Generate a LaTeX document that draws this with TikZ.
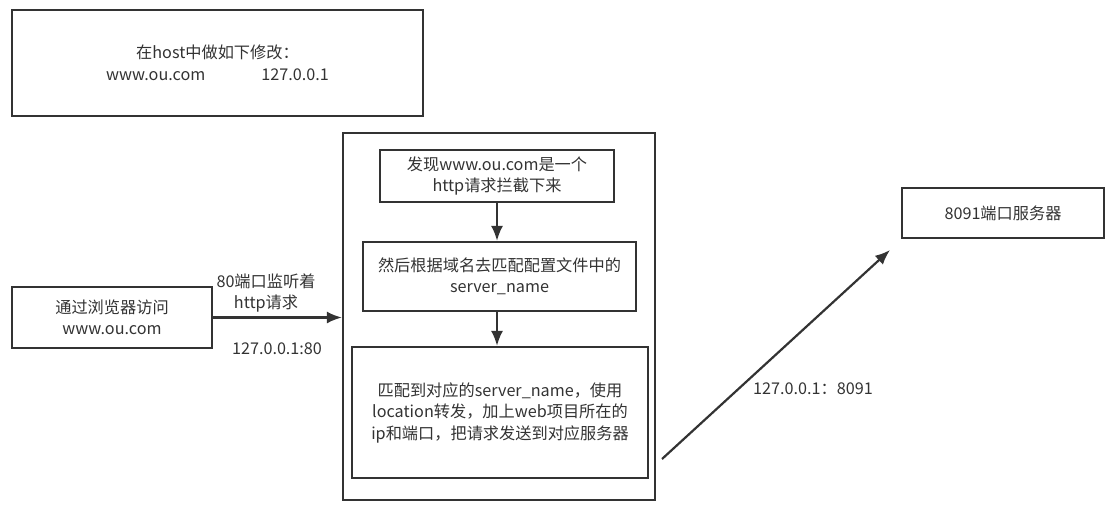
\documentclass[tikz,border=0pt]{standalone}
\usepackage{fontspec}
\setmainfont{Noto Sans CJK SC}
\usepackage{tikz}
\usetikzlibrary{arrows.meta,positioning,calc}
\definecolor{LineGray}{HTML}{333333}
\definecolor{TextGray}{HTML}{333333}
\tikzset{
  box/.style={draw=LineGray, line width=2.2pt, align=center, fill=white, text=TextGray, inner sep=0pt, font=\fontsize{16.2}{21.5}\selectfont},
  lbl/.style={align=center, text=TextGray, inner sep=0pt, font=\fontsize{16.2}{21.5}\selectfont},
  arr/.style={-{Latex[length=15pt,width=12pt]}, line width=2.2pt, draw=LineGray}
}
\begin{document}
\begin{tikzpicture}[x=1pt,y=-1pt]
\useasboundingbox (0,0) rectangle (1115,515);
% hosts file
\node[box, minimum width=411, minimum height=106] (hosts) at (217.5,63) {在host中做如下修改：\\www.ou.com\hspace{56pt}127.0.0.1};
% nginx container
\node[box, minimum width=312, minimum height=367] (nginx) at (499,316.5) {};
\node[box, minimum width=234, minimum height=52] (find) at (497,176) {发现www.ou.com是一个\\http请求拦截下来};
\node[box, minimum width=273, minimum height=69] (match) at (499.5,276.5) {然后根据域名去匹配配置文件中的\\server\_name};
\node[box, minimum width=296, minimum height=131] (route) at (500,412.5) {匹配到对应的server\_name，使用\\location转发，加上web项目所在的\\ip和端口，把请求发送到对应服务器};
% browser and backend
\node[box, minimum width=200, minimum height=61] (browser) at (112,317.5) {通过浏览器访问\\www.ou.com};
\node[box, minimum width=202, minimum height=50] (server) at (1003,213) {8091端口服务器};
\coordinate (fwdA) at (662,459);
\coordinate (fwdB) at (890,250);
% labels
\node[lbl] (listen) at (266,293) {80端口监听着\\http请求};
\node[lbl] (port80) at (277,349) {127.0.0.1:80};
\node[lbl] (port8091) at (813,389) {127.0.0.1：8091};
% connectors
\draw[arr] (browser.east) -- (browser.east -| nginx.west);
\draw[arr] (find.south) -- (find.south |- match.north);
\draw[arr] (find.south |- match.south) -- (find.south |- route.north);
\draw[arr] (fwdA) -- (fwdB);
\end{tikzpicture}
\end{document}
